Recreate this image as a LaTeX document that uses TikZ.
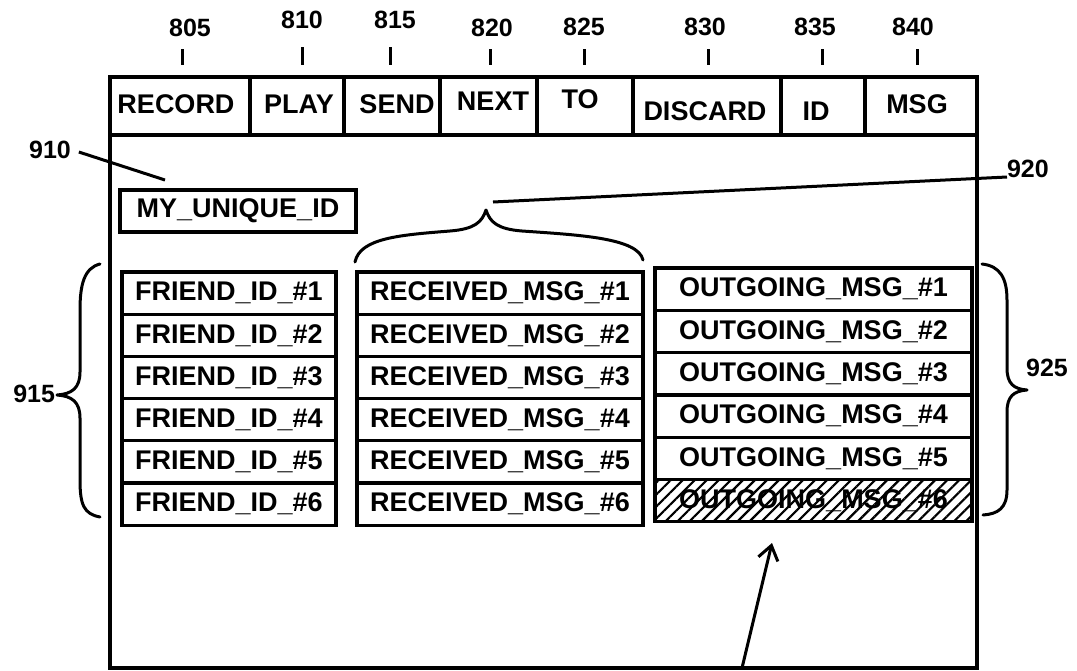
\documentclass[tikz,border=0pt]{standalone}
\usepackage{fontspec}
\setmainfont{Liberation Sans}
\usetikzlibrary{arrows.meta,patterns.meta}
\begin{document}
\begin{tikzpicture}[x=1pt,y=-1pt,
  every node/.style={inner sep=0pt,outer sep=0pt},
  txt/.style={font=\fontsize{27}{30}\selectfont\bfseries},
  num/.style={font=\fontsize{25}{28}\selectfont\bfseries},
  framebox/.style={draw,line width=3.6pt},
  topcell/.style={draw,line width=3.2pt,minimum height=58pt},
  cellbox/.style={draw,line width=3.2pt,font=\fontsize{27}{30}\selectfont\bfseries},
  lead/.style={line width=3pt},
  brace/.style={line width=3pt,line cap=round,line join=round}]
\useasboundingbox (0,0) rectangle (1077,670);

% outer screen
\node[framebox,minimum width=867pt,minimum height=591pt] (screen) at (543.5,372.5) {};

% top buttons
\node[topcell,minimum width=140pt] (c1) at (180,106) {};
\node[topcell,minimum width=94pt]  (c2) at (297,106) {};
\node[topcell,minimum width=96pt]  (c3) at (392,106) {};
\node[topcell,minimum width=97pt]  (c4) at (488.5,106) {};
\node[topcell,minimum width=96pt]  (c5) at (585,106) {};
\node[topcell,minimum width=148pt] (c6) at (707,106) {};
\node[topcell,minimum width=84pt]  (c7) at (823,106) {};
\node[topcell,minimum width=112pt] (c8) at (921,106) {};

\node[txt] (t1) at (176,104) {RECORD};
\node[txt] (t2) at (299,104) {PLAY};
\node[txt] (t3) at (397,104) {SEND};
\node[txt] (t4) at (493,101) {NEXT};
\node[txt] (t5) at (580,99) {TO};
\node[txt] (t6) at (705,111) {DISCARD};
\node[txt] (t7) at (816,111) {ID};
\node[txt] (t8) at (917,104) {MSG};

% reference numerals on top
\node[num] (n805) at (190,28) {805};
\node[num] (n810) at (302,20) {810};
\node[num] (n815) at (395,20) {815};
\node[num] (n820) at (492,28) {820};
\node[num] (n825) at (584,27) {825};
\node[num] (n830) at (705,27) {830};
\node[num] (n835) at (815,27) {835};
\node[num] (n840) at (913,27) {840};
\foreach \n/\x/\ya in {805/182/49,810/302/47,815/390/47,820/490/49,825/584/49,830/708/49,835/822/49,840/917/49}{
  \coordinate (k\n a) at (\x,\ya);
  \coordinate (k\n b) at (\x,65);
  \draw[lead] (k\n a) -- (k\n b);
}

% 910
\node[num] (n910) at (50,150) {910};
\coordinate (p910) at (165,180);
\draw[lead] ([xshift=8pt,yshift=-2pt]n910.east) -- (p910);
\node[cellbox,minimum width=236pt,minimum height=42pt] (myid) at (238,211) {MY\_UNIQUE\_ID};

% columns
\foreach \i in {1,...,6}{
  \node[cellbox,minimum width=214pt,minimum height=42.2pt] (f\i) at (229,{272+42.2*(\i-0.5)}) {FRIEND\_ID\_\#\i};
  \node[cellbox,minimum width=286pt,minimum height=42.2pt] (r\i) at (500,{272+42.2*(\i-0.5)}) {RECEIVED\_MSG\_\#\i};
}
\foreach \i in {1,...,5}{
  \node[cellbox,minimum width=317pt,minimum height=42.3pt] (o\i) at (813.5,{268+42.3*(\i-0.5)}) {OUTGOING\_MSG\_\#\i};
}
\node[cellbox,minimum width=317pt,minimum height=42.3pt,
  pattern={Lines[angle=45,distance=8.5pt,line width=2.2pt]}] (o6) at (813.5,{268+42.3*5.5}) {OUTGOING\_MSG\_\#6};

% brace 920
\draw[brace] (355,262) .. controls (360,238) and (400,235) .. (450,231)
  .. controls (475,229) and (482,222) .. (486,210)
  .. controls (490,222) and (497,229) .. (522,231)
  .. controls (580,235) and (638,238) .. (643,260);
\coordinate (q920) at (493,202);
\node[num,anchor=west] (n920) at (1007,169) {920};
\draw[lead] (q920) -- ([yshift=-8pt]n920.west);

% brace 915
\draw[brace] (100,264) .. controls (84,268) and (80,285) .. (80,310) -- (80,372)
  .. controls (80,388) and (72,394) .. (57,395)
  .. controls (72,396) and (80,402) .. (80,418) -- (80,480)
  .. controls (80,505) and (84,514) .. (100,517);
\node[num,anchor=east] (n915) at (55,394) {915};

% brace 925
\draw[brace] (982,264) .. controls (1000,266) and (1007,278) .. (1007,300) -- (1007,368)
  .. controls (1007,384) and (1014,389) .. (1027,390)
  .. controls (1014,391) and (1007,396) .. (1007,412) -- (1007,490)
  .. controls (1007,508) and (998,514) .. (983,515);
\node[num] (n925) at (1047,368) {925};

% arrow to hatched entry
\coordinate (abot) at (742,668);
\coordinate (atip) at (772,543);
\draw[lead,-{Straight Barb[length=14pt,width=20pt,line width=3pt]}] (abot) -- (atip);
\end{tikzpicture}
\end{document}
